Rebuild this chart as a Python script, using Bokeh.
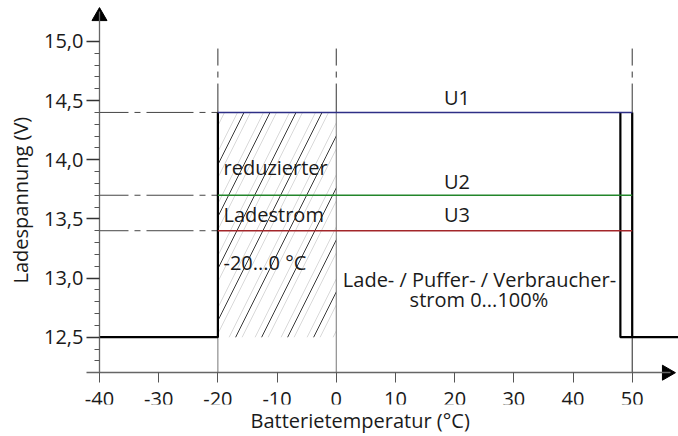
from bokeh.plotting import figure
from bokeh.models import FixedTicker, Title
from bokeh.core.properties import value
from bokeh.embed import file_html
from bokeh.resources import INLINE
import math

# ---------------- data ----------------
temp_ticks = [-40, -30, -20, -10, 0, 10, 20, 30, 40, 50]
temp_labels = ["-40", "-30", "-20", "-10", "0", "10", "20", "30", "40", "50"]
volt_ticks = [12.5, 13.0, 13.5, 14.0, 14.5, 15.0]
volt_labels = ["12,5", "13,0", "13,5", "14,0", "14,5", "15,0"]
volt_minor = [12.3, 12.4, 12.6, 12.7, 12.8, 12.9, 13.1, 13.2, 13.3, 13.4,
              13.6, 13.7, 13.8, 13.9, 14.1, 14.2, 14.3, 14.4, 14.6, 14.7, 14.8, 14.9]

series_names = ["U1", "U2", "U3"]
series_volts = [14.4, 13.7, 13.4]
series_colors = ["#2e2f86", "#23862b", "#a3262a"]

t_min = -40           # left end of characteristic / y-axis position
t_reduced = [-20, 0]  # reduced charge current range
t_cutoff = 48         # switch-off temperature
t_max = 50            # upper limit
v_rest = 12.5         # voltage outside range
v_axis = 12.2         # x-axis position
v_guide_top = 14.94   # top of guide lines

X0, X1 = -51.15, 57.82
Y0, Y1 = 11.9311, 15.3462
FONT = "Open Sans"
FS = "20px"
TXT = "#1a1a1a"
DY = 0.066  # baseline correction for glyph texts

p = figure(width=678, height=436, x_range=(X0, X1), y_range=(Y0, Y1),
           output_backend="svg", toolbar_location=None,
           min_border_left=33, min_border_right=0, min_border_top=0, min_border_bottom=32)
p.grid.visible = False
p.outline_line_color = None
p.background_fill_color = "white"

# ---- axes (drawn at fixed data positions inside the frame) ----
xa = p.xaxis[0]
xa.fixed_location = v_axis
xa.bounds = (-42.2, 56.5)
xa.ticker = FixedTicker(ticks=temp_ticks, minor_ticks=[])
xa.major_label_overrides = {t: l for t, l in zip(temp_ticks, temp_labels)}
xa.major_tick_in = 0
xa.major_tick_out = 10
xa.axis_line_color = "#666666"
xa.axis_line_width = 1.3
xa.major_tick_line_color = "#555555"
xa.major_label_standoff = 9
xa.major_label_text_font = FONT
xa.major_label_text_font_size = FS
xa.major_label_text_color = TXT

ya = p.yaxis[0]
ya.fixed_location = t_min
ya.bounds = (v_axis, 15.25)
ya.ticker = FixedTicker(ticks=volt_ticks, minor_ticks=volt_minor)
ya.major_label_overrides = {t: l for t, l in zip(volt_ticks, volt_labels)}
ya.major_tick_in = 0
ya.major_tick_out = 13
ya.minor_tick_in = 0
ya.minor_tick_out = 5
ya.axis_line_color = "#666666"
ya.axis_line_width = 1.3
ya.major_tick_line_color = "#333333"
ya.major_tick_line_width = 1.5
ya.minor_tick_line_color = "#555555"
ya.major_label_standoff = 3
ya.major_label_text_font = FONT
ya.major_label_text_font_size = FS
ya.major_label_text_color = TXT

# axis titles
p.add_layout(Title(text="Batterietemperatur (°C)", align="left", offset=217,
                   standoff=0, text_font=FONT, text_font_size=FS,
                   text_font_style="normal", text_color=TXT), "below")
p.add_layout(Title(text="Ladespannung (V)", align="left", offset=121,
                   standoff=0, text_font=FONT, text_font_size=FS,
                   text_font_style="normal", text_color=TXT), "left")

# arrow heads at the axis ends
p.scatter(x=[t_min], y=[15.213], marker="triangle", size=15, angle=0,
          fill_color="black", line_color="black")
p.scatter(x=[55.84], y=[v_axis], marker="triangle", size=15, angle=-math.pi / 2,
          fill_color="black", line_color="black")

# ---- hatched region (reduced charge current) ----
p.quad(left=t_reduced[0], right=t_reduced[1], bottom=v_rest, top=series_volts[0],
       fill_alpha=0, line_alpha=0, hatch_pattern="/", hatch_scale=26,
       hatch_color="#cfcfcf", hatch_weight=0.8)
p.quad(left=t_reduced[0], right=t_reduced[1], bottom=v_rest, top=series_volts[0],
       fill_alpha=0, line_alpha=0, hatch_pattern="/", hatch_scale=52,
       hatch_color="#3a3a3a", hatch_weight=1.0)

# ---- vertical guide lines ----
guide_x = [t_reduced[0], t_reduced[1], t_max]
guide_col = ["#777777", "#777777", "#222222"]
for gx, gc in zip(guide_x, guide_col):
    p.segment(x0=gx, y0=v_guide_top, x1=gx, y1=series_volts[0], line_color="#333333",
              line_width=1, line_dash="47 6 6 6", line_dash_offset=30)
    p.segment(x0=gx, y0=series_volts[0], x1=gx, y1=v_axis, line_color=gc, line_width=1)

# ---- horizontal dash-dot guides to y-axis ----
for v in series_volts:
    p.segment(x0=t_min, y0=v, x1=t_reduced[0], y1=v, line_color="#444444",
              line_width=1, line_dash="47 6 6 6", line_dash_offset=18)

# ---- characteristic (black) ----
p.multi_line(xs=[[t_min, t_reduced[0], t_reduced[0]],
                 [t_cutoff, t_cutoff, X1],
                 [t_max, t_max]],
             ys=[[v_rest, v_rest, series_volts[0]],
                 [series_volts[0], v_rest, v_rest],
                 [series_volts[0], v_rest]],
             line_color="black", line_width=2.2)

# ---- charge voltages ----
for v, c in zip(series_volts, series_colors):
    p.segment(x0=t_reduced[0], y0=v, x1=t_max, y1=v, line_color=c, line_width=1.6)

# ---- texts ----
lab_x = 20.4
lab_y = [14.459, 13.754, 13.474]
p.text(x=[lab_x] * 3, y=[y + DY for y in lab_y], text=series_names, text_font=value(FONT),
       text_font_size=FS, text_align="center", text_baseline="alphabetic",
       text_color=TXT)

p.text(x=[-19.05] * 3, y=[y + DY for y in [13.867, 13.467, 13.064]],
       text=["reduzierter", "Ladestrom", "-20...0 °C"], text_font=value(FONT),
       text_font_size=FS, text_align="left", text_baseline="alphabetic",
       text_color=TXT)

p.text(x=[24.2, 24.1], y=[y + DY for y in [12.923, 12.754]],
       text=["Lade- / Puffer- / Verbraucher-", "strom 0...100%"], text_font=value(FONT),
       text_font_size=FS, text_align="center", text_baseline="alphabetic",
       text_color=TXT)

open("out.html", "w").write(file_html(p, INLINE))
